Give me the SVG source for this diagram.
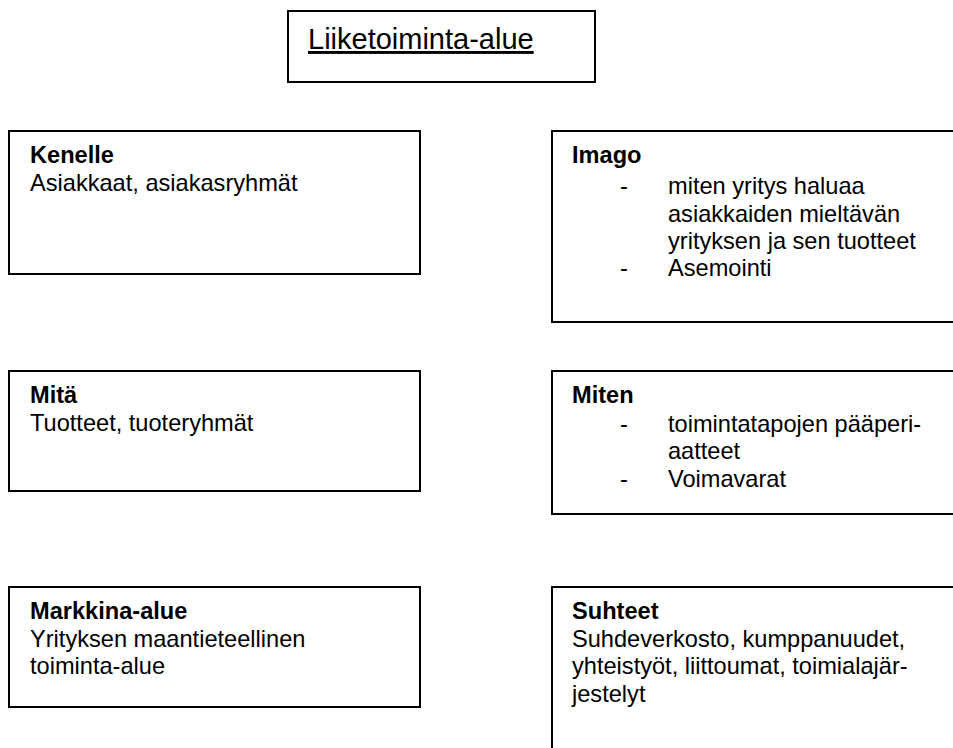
<svg xmlns="http://www.w3.org/2000/svg" width="953" height="748" viewBox="0 0 953 748">
<style>
.box{fill:#fff;stroke:#000;stroke-width:2}
.t{font-family:"Liberation Sans",Arial,sans-serif;font-size:23.6px;fill:#000}
.b{font-weight:bold}
.title{font-family:"Liberation Sans",Arial,sans-serif;font-size:29px;fill:#000;text-decoration:underline}
</style>
<rect width="953" height="748" fill="#fff"/>
<g id="title">
<rect class="box" x="288" y="11" width="307" height="71"/>
<text class="title" x="308" y="49">Liiketoiminta-alue</text>
</g>
<g id="kenelle">
<rect class="box" x="9" y="131" width="411" height="143"/>
<text class="t b" x="30" y="163">Kenelle</text>
<text class="t" x="30" y="191">Asiakkaat, asiakasryhmät</text>
</g>
<g id="imago">
<rect class="box" x="552" y="131" width="420" height="191"/>
<text class="t b" x="572" y="163">Imago</text>
<text class="t" x="620" y="194">-</text>
<text class="t" x="668" y="194">miten yritys haluaa</text>
<text class="t" x="668" y="222">asiakkaiden mieltävän</text>
<text class="t" x="668" y="249">yrityksen ja sen tuotteet</text>
<text class="t" x="620" y="276">-</text>
<text class="t" x="668" y="276">Asemointi</text>
</g>
<g id="mita">
<rect class="box" x="9" y="371" width="411" height="120"/>
<text class="t b" x="30" y="403">Mitä</text>
<text class="t" x="30" y="431">Tuotteet, tuoteryhmät</text>
</g>
<g id="miten">
<rect class="box" x="552" y="371" width="420" height="143"/>
<text class="t b" x="572" y="403">Miten</text>
<text class="t" x="620" y="432">-</text>
<text class="t" x="668" y="432">toimintatapojen pääperi-</text>
<text class="t" x="668" y="459">aatteet</text>
<text class="t" x="620" y="487">-</text>
<text class="t" x="668" y="487">Voimavarat</text>
</g>
<g id="markkina">
<rect class="box" x="9" y="587" width="411" height="120"/>
<text class="t b" x="30" y="619">Markkina-alue</text>
<text class="t" x="30" y="647">Yrityksen maantieteellinen</text>
<text class="t" x="30" y="674">toiminta-alue</text>
</g>
<g id="suhteet">
<rect class="box" x="552" y="587" width="420" height="180"/>
<text class="t b" x="572" y="619">Suhteet</text>
<text class="t" x="572" y="647">Suhdeverkosto, kumppanuudet,</text>
<text class="t" x="572" y="674">yhteistyöt, liittoumat, toimialajär-</text>
<text class="t" x="572" y="702">jestelyt</text>
</g>
<g id="connectors"></g>
</svg>
